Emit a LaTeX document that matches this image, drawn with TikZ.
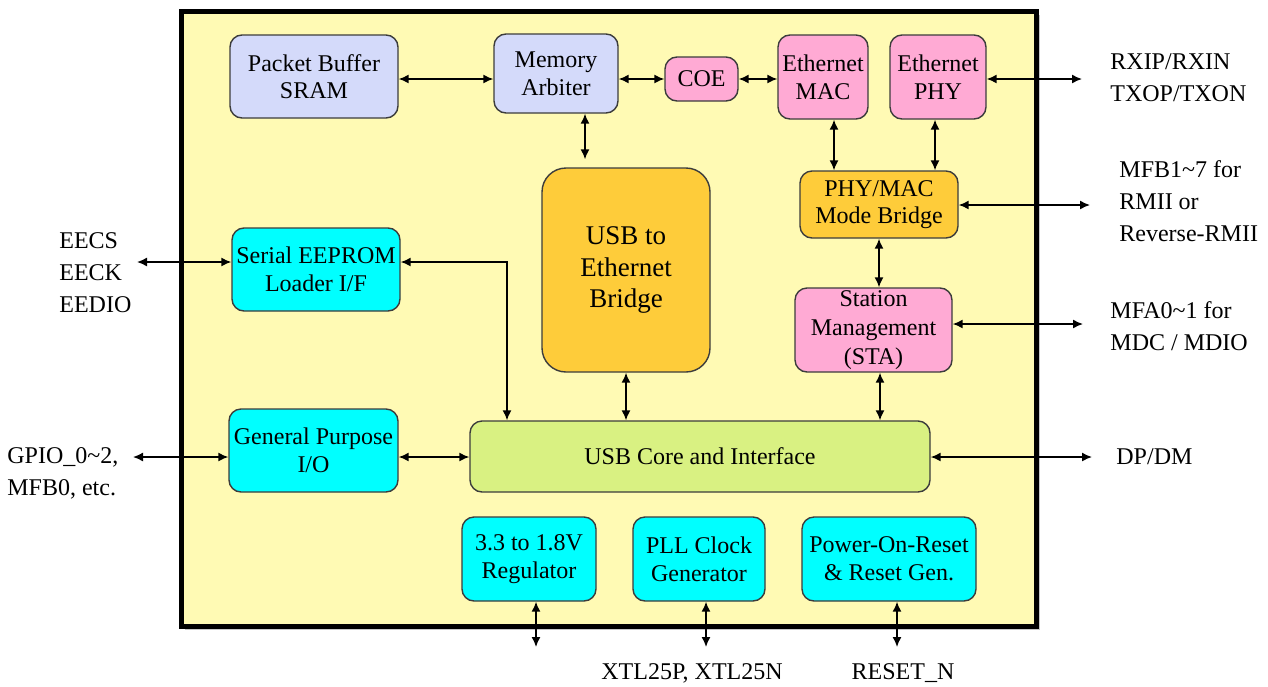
\documentclass[tikz,border=0pt]{standalone}
\usepackage{fontspec}
\setmainfont{Liberation Serif}
\usetikzlibrary{arrows.meta}
\definecolor{chipbg}{RGB}{255,250,180}
\definecolor{lav}{RGB}{212,218,250}
\definecolor{pinkb}{RGB}{255,170,212}
\definecolor{cyanb}{RGB}{0,255,255}
\definecolor{orangeb}{RGB}{254,204,58}
\definecolor{greenb}{RGB}{217,241,130}
\definecolor{edge}{RGB}{60,60,60}
\tikzset{
  blk/.style={draw=edge, line width=0.7pt, rounded corners=6pt, align=center,
    inner sep=0pt, font=\fontsize{12}{13.8}\selectfont},
  arr/.style={{Latex[length=5pt,width=4.5pt]}-{Latex[length=5pt,width=4.5pt]}, line width=0.75pt},
  lbl/.style={align=left, anchor=west, inner sep=0pt, font=\fontsize{12}{16}\selectfont},
}
\begin{document}
\begin{tikzpicture}[x=0.5pt,y=-0.5pt]
\useasboundingbox (0,0) rectangle (1268,686);
% chip outline
\fill[gray!45] (185,15) rectangle (1040,630);
\draw[fill=chipbg, line width=2.5pt] (181,11) rectangle (1036,626);
% blocks
\node[blk, fill=lav, minimum width=84pt, minimum height=41.5pt] (sram) at (314,76.5) {Packet Buffer\\SRAM};
\node[blk, fill=lav, minimum width=62pt, minimum height=39.5pt] (arb) at (556,73.5) {Memory\\Arbiter};
\node[blk, fill=pinkb, minimum width=36.5pt, minimum height=22pt] (coe) at (701.5,79) {COE};
\node[blk, fill=pinkb, minimum width=45pt, minimum height=42pt] (mac) at (823,77) {Ethernet\\MAC};
\node[blk, fill=pinkb, minimum width=48pt, minimum height=42pt] (phy) at (938,77) {Ethernet\\PHY};
\node[blk, fill=orangeb, rounded corners=12pt, minimum width=84pt, minimum height=102pt, font=\fontsize{13.5}{15.75}\selectfont] (bridge) at (626,270) {USB to\\Ethernet\\Bridge};
\node[blk, fill=orangeb, minimum width=79pt, minimum height=33.5pt] (pmb) at (879,204.5) {PHY/MAC\\Mode Bridge};
\node[blk, fill=cyanb, minimum width=84pt, minimum height=41.5pt] (eep) at (316,269.5) {Serial EEPROM\\Loader I/F};
\node[blk, fill=pinkb, minimum width=78.5pt, minimum height=42pt, font=\fontsize{12}{14.5}\selectfont] (sta) at (873.5,330) {Station\\Management\\(STA)};
\node[blk, fill=cyanb, minimum width=84.5pt, minimum height=41.5pt] (gpio) at (313.5,450.5) {General Purpose\\I/O};
\node[blk, fill=greenb, minimum width=230pt, minimum height=35.5pt] (core) at (700,456.5) {USB Core and Interface};
\node[blk, fill=cyanb, minimum width=67pt, minimum height=42pt] (reg) at (529,559) {3.3 to 1.8V\\Regulator};
\node[blk, fill=cyanb, minimum width=66pt, minimum height=42pt] (pll) at (699,559) {PLL Clock\\Generator};
\node[blk, fill=cyanb, minimum width=87pt, minimum height=42pt] (por) at (889,559) {Power-On-Reset\\\& Reset Gen.};
% free ends
\coordinate (phyR) at (1082,79);
\coordinate (pmbR) at (1090,205);
\coordinate (staR) at (1083,324);
\coordinate (coreR) at (1092,457);
\coordinate (eepL) at (137,262);
\coordinate (gpioL) at (133,457);
\coordinate (eepJ) at (507,262);
\coordinate (regD) at (536,647);
\coordinate (pllD) at (706,647);
\coordinate (porD) at (897,647);
% connectors
\draw[arr] (sram.east |- 0,79) -- (arb.west |- 0,79);
\draw[arr] (arb.east |- 0,79) -- (coe.west);
\draw[arr] (coe.east) -- (mac.west |- 0,79);
\draw[arr] (phy.east |- 0,79) -- (phyR);
\draw[arr] (arb.south -| 585,0) -- ([yshift=4pt]bridge.north -| 585,0);
\draw[arr] (mac.south -| 834,0) -- (pmb.north -| 834,0);
\draw[arr] (phy.south -| 935,0) -- (pmb.north -| 935,0);
\draw[arr] (pmb.east |- 0,205) -- (pmbR);
\draw[arr] (pmb.south -| 879,0) -- (sta.north -| 879,0);
\draw[arr] (sta.east |- 0,324) -- (staR);
\draw[arr] (sta.south -| 880,0) -- (core.north -| 880,0);
\draw[arr] (bridge.south) -- (core.north -| bridge.south);
\draw[arr] (eep.east |- eepJ) -- (eepJ) -- (core.north -| eepJ);
\draw[arr] (eepL) -- (eep.west |- eepL);
\draw[arr] (gpioL) -- (gpio.west |- gpioL);
\draw[arr] (gpio.east |- 0,457) -- (core.west |- 0,457);
\draw[arr] (core.east |- coreR) -- (coreR);
\draw[arr] (reg.south -| regD) -- (regD);
\draw[arr] (pll.south -| pllD) -- (pllD);
\draw[arr] (por.south -| porD) -- (porD);
% labels
\node[lbl] (lrx) at (1110,78) {RXIP/RXIN\\TXOP/TXON};
\node[lbl] (lmfb) at (1119,201) {MFB1\textasciitilde 7 for\\RMII or\\Reverse-RMII};
\node[lbl] (lmfa) at (1110,326) {MFA0\textasciitilde 1 for\\MDC / MDIO};
\node[lbl] (ldp) at (1116,457) {DP/DM};
\node[lbl] (lee) at (59,273) {EECS\\EECK\\EEDIO};
\node[lbl] (lgp) at (7,473) {GPIO\_0\textasciitilde 2,\\MFB0, etc.};
\node[lbl, anchor=center] (lxtl) at (692,673) {XTL25P, XTL25N};
\node[lbl, anchor=center] (lrst) at (903,673) {RESET\_N};
\end{tikzpicture}
\end{document}
